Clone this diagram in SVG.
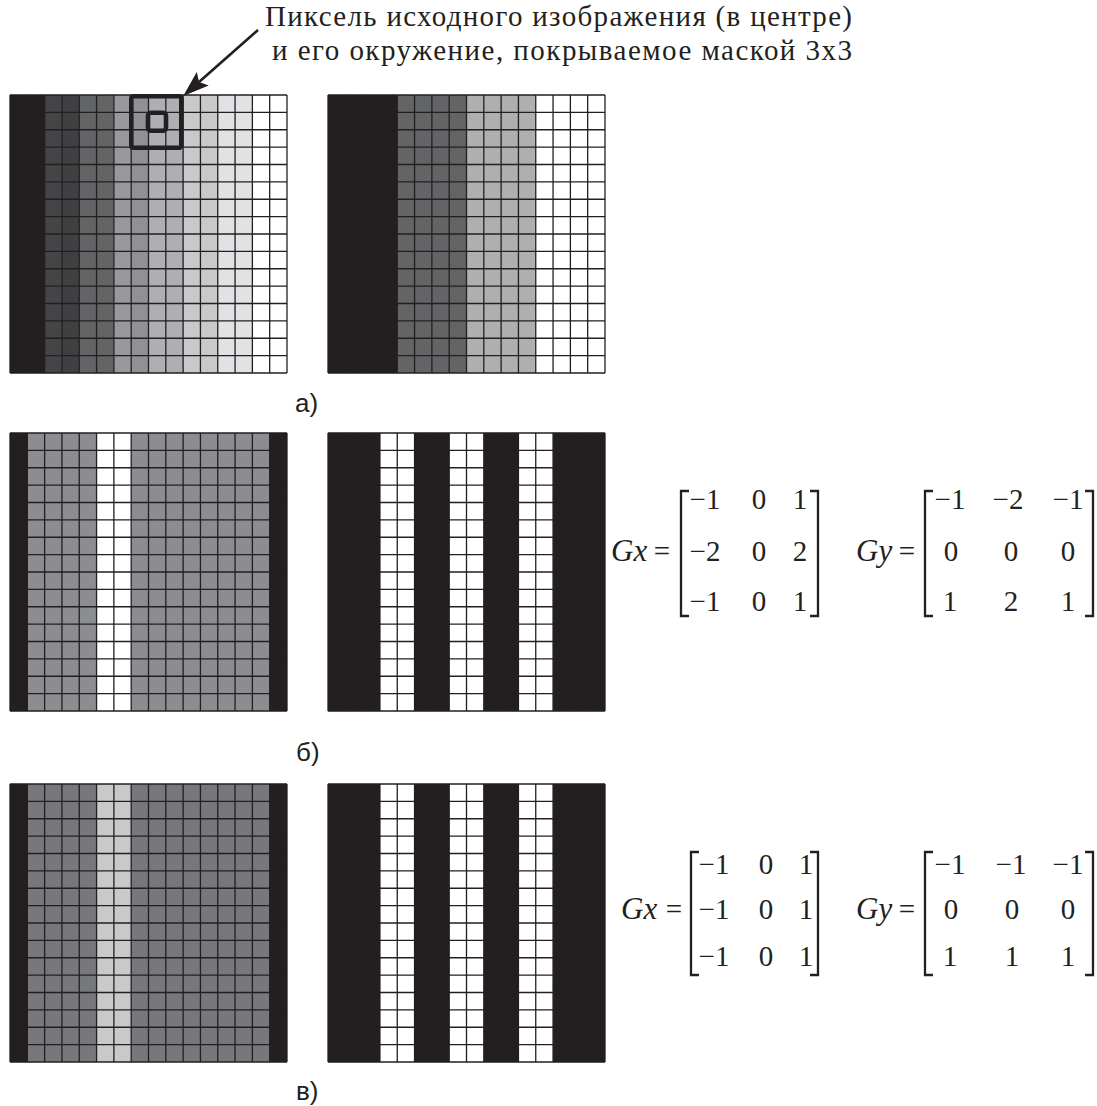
<svg xmlns="http://www.w3.org/2000/svg" width="1097" height="1106" viewBox="0 0 1097 1106">
<style>
.cap{font-family:"Liberation Serif","Times New Roman",serif;font-size:29px;fill:#231f20}
.lbl{font-family:"Liberation Sans",Arial,sans-serif;font-size:26px;fill:#231f20}
.eq{font-family:"Liberation Serif","Times New Roman",serif;font-size:31px;fill:#231f20}
.eqs{font-family:"Liberation Serif","Times New Roman",serif;font-size:29px;fill:#231f20;text-anchor:middle}
.num{font-family:"Liberation Serif","Times New Roman",serif;font-size:29px;fill:#231f20;text-anchor:middle}
.br{fill:none;stroke:#231f20;stroke-width:2.3}
.grid{fill:none;stroke:#231f20;stroke-width:1.3}
.mask{fill:none;stroke:#231f20;stroke-width:4.6}
</style>
<defs>
<path id="gl" class="grid" d="M0,0V278M17.31,0V278M34.63,0V278M51.94,0V278M69.25,0V278M86.56,0V278M103.88,0V278M121.19,0V278M138.5,0V278M155.81,0V278M173.13,0V278M190.44,0V278M207.75,0V278M225.06,0V278M242.38,0V278M259.69,0V278M277,0V278M0,0H277M0,17.38H277M0,34.75H277M0,52.13H277M0,69.5H277M0,86.88H277M0,104.25H277M0,121.63H277M0,139H277M0,156.38H277M0,173.75H277M0,191.13H277M0,208.5H277M0,225.88H277M0,243.25H277M0,260.63H277M0,278H277"/>
<g id="stripes">
<rect x="0" y="0" width="277" height="278" fill="#231f20"/>
<rect x="51.94" y="0" width="34.62" height="278" fill="#ffffff"/>
<rect x="121.19" y="0" width="34.62" height="278" fill="#ffffff"/>
<rect x="190.44" y="0" width="34.62" height="278" fill="#ffffff"/>
</g>
<marker id="ah" markerUnits="userSpaceOnUse" viewBox="0 0 26 18" refX="5" refY="9" markerWidth="26" markerHeight="18" orient="auto">
<path d="M0,0 L26,9 L0,18 L5,9 z" fill="#231f20"/>
</marker>
</defs>

<g id="caption">
<text class="cap" x="265" y="26" textLength="587" lengthAdjust="spacing">Пиксель исходного изображения (в центре)</text>
<text class="cap" x="272" y="60" textLength="580" lengthAdjust="spacing">и его окружение, покрываемое маской 3x3</text>
</g>

<g id="grid-a-left" transform="translate(10,95)">
<rect x="0" y="0" width="34.63" height="278" fill="#231f20"/>
<rect x="34.63" y="0" width="17.31" height="278" fill="#434547"/>
<rect x="51.94" y="0" width="17.31" height="278" fill="#3e4042"/>
<rect x="69.25" y="0" width="34.63" height="278" fill="#636466"/>
<rect x="103.88" y="0" width="17.31" height="278" fill="#97999c"/>
<rect x="121.19" y="0" width="17.31" height="278" fill="#8f9194"/>
<rect x="138.5" y="0" width="34.63" height="278" fill="#aeafb2"/>
<rect x="173.13" y="0" width="34.62" height="278" fill="#c8c9cb"/>
<rect x="207.75" y="0" width="34.63" height="278" fill="#e1e2e3"/>
<rect x="242.38" y="0" width="34.62" height="278" fill="#ffffff"/>
<use href="#gl"/>
</g>
<g id="mask">
<rect class="mask" x="131.3" y="96.3" width="50" height="51.5" rx="2"/>
<rect class="mask" x="148" y="112.7" width="18" height="18" rx="3"/>
</g>

<g id="grid-a-right" transform="translate(328,95)">
<rect x="0" y="0" width="69.25" height="278" fill="#231f20"/>
<rect x="69.25" y="0" width="69.25" height="278" fill="#636466"/>
<rect x="138.5" y="0" width="69.25" height="278" fill="#adafb1"/>
<rect x="207.75" y="0" width="69.25" height="278" fill="#ffffff"/>
<use href="#gl"/>
</g>
<g id="label-a"><text class="lbl" x="295" y="412">а)</text></g>

<g id="grid-b-left" transform="translate(10,433)">
<rect x="0" y="0" width="277" height="278" fill="#8b8d90"/>
<rect x="0" y="0" width="17.31" height="278" fill="#231f20"/>
<rect x="259.69" y="0" width="17.31" height="278" fill="#231f20"/>
<rect x="86.56" y="0" width="34.63" height="278" fill="#ffffff"/>
<use href="#gl"/>
</g>
<g id="grid-b-right" transform="translate(328,433)">
<use href="#stripes"/>
<use href="#gl"/>
</g>
<g id="label-b"><text class="lbl" x="296" y="761">б)</text></g>

<g id="matrix-b-gx">
<text class="eq" x="611" y="561" font-style="italic">Gx</text><text class="eqs" x="662" y="561">=</text>
<path class="br" d="M689,491H681V616H689M810,491H818V616H810"/>
<text class="num" x="705" y="509">−1</text><text class="num" x="759" y="509">0</text><text class="num" x="800" y="509">1</text>
<text class="num" x="705" y="561">−2</text><text class="num" x="759" y="561">0</text><text class="num" x="800" y="561">2</text>
<text class="num" x="705" y="611">−1</text><text class="num" x="759" y="611">0</text><text class="num" x="800" y="611">1</text>
</g>
<g id="matrix-b-gy">
<text class="eq" x="856" y="561" font-style="italic">Gy</text><text class="eqs" x="907" y="561">=</text>
<path class="br" d="M933,491H925V616H933M1085,491H1093V616H1085"/>
<text class="num" x="950" y="509">−1</text><text class="num" x="1008" y="509">−2</text><text class="num" x="1068" y="509">−1</text>
<text class="num" x="951" y="561">0</text><text class="num" x="1011" y="561">0</text><text class="num" x="1068" y="561">0</text>
<text class="num" x="950" y="611">1</text><text class="num" x="1011" y="611">2</text><text class="num" x="1068" y="611">1</text>
</g>

<g id="grid-c-left" transform="translate(10,784)">
<rect x="0" y="0" width="277" height="278" fill="#77787b"/>
<rect x="0" y="0" width="17.31" height="278" fill="#231f20"/>
<rect x="259.69" y="0" width="17.31" height="278" fill="#231f20"/>
<rect x="86.56" y="0" width="34.63" height="278" fill="#c8c9cb"/>
<use href="#gl"/>
</g>
<g id="grid-c-right" transform="translate(328,784)">
<use href="#stripes"/>
<use href="#gl"/>
</g>
<g id="label-c"><text class="lbl" x="296" y="1100">в)</text></g>

<g id="matrix-c-gx">
<text class="eq" x="621" y="919" font-style="italic">Gx</text><text class="eqs" x="674" y="919">=</text>
<path class="br" d="M699,852H691V975H699M810,852H818V975H810"/>
<text class="num" x="714" y="874">−1</text><text class="num" x="766" y="874">0</text><text class="num" x="806" y="874">1</text>
<text class="num" x="714" y="919">−1</text><text class="num" x="766" y="919">0</text><text class="num" x="806" y="919">1</text>
<text class="num" x="714" y="966">−1</text><text class="num" x="766" y="966">0</text><text class="num" x="806" y="966">1</text>
</g>
<g id="matrix-c-gy">
<text class="eq" x="856" y="919" font-style="italic">Gy</text><text class="eqs" x="907" y="919">=</text>
<path class="br" d="M933,852H925V975H933M1085,852H1093V975H1085"/>
<text class="num" x="950" y="874">−1</text><text class="num" x="1011" y="874">−1</text><text class="num" x="1068" y="874">−1</text>
<text class="num" x="951" y="919">0</text><text class="num" x="1012" y="919">0</text><text class="num" x="1068" y="919">0</text>
<text class="num" x="950" y="966">1</text><text class="num" x="1012" y="966">1</text><text class="num" x="1068" y="966">1</text>
</g>

<g id="connectors">
<path d="M258,30 L199,82" fill="none" stroke="#231f20" stroke-width="2.6" marker-end="url(#ah)"/>
</g>
</svg>
